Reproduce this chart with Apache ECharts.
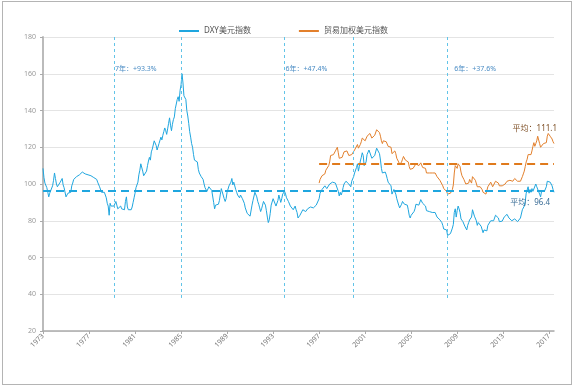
<!DOCTYPE html>
<html>
<head>
<meta charset="utf-8">
<script src="https://cdn.jsdelivr.net/npm/echarts@6/dist/echarts.min.js"></script>
<style>
html,body{margin:0;padding:0;background:#fff;}
#chart{position:absolute;left:0;top:0;width:576px;height:388px;}
#frame{position:absolute;left:2px;top:1px;width:568px;height:382px;border:1px solid #b4b4b4;pointer-events:none;}
</style>
</head>
<body>
<div id="chart"></div>
<div id="frame"></div>
<script>
// ---- data (monthly, Jan 1973 - Jun 2017) ----
const startYear = 1973, endYear = 2017, endMonth = 6;
const categories = [];
for (let y = startYear; y <= endYear; y++) {
  for (let m = 1; m <= 12; m++) {
    if (y === endYear && m > endMonth) break;
    categories.push(y + '-' + (m < 10 ? '0' + m : m));
  }
}
const tickYears = ['1973','1977','1981','1985','1989','1993','1997','2001','2005','2009','2013','2017'];

const dxyValues = [
 108.5,103.5,100.5,101,98,95.5,93,95,96,95,99,102,
 106,103,100,98.5,98,99.5,101,102,103,99.5,98,97.5,
 93,94,95,95.5,95,95.5,99,100.5,102.5,103,103.5,104,
 104,104,105,105.5,106,106.5,107,106,105.5,105,105,105,
 105,104.5,104.5,104,104,103.5,102.5,103,102.5,101,100,98.5,
 97.5,95.5,95,96,95.5,94,92.5,89.5,88,83,89.5,88,
 88.5,87.5,88,89,90.5,88.5,86.5,87.5,86,88,86.5,86,
 85.5,86,90.5,93,87.5,86,85.5,86.5,86,87.5,90,92.5,
 95,98,98.5,101,105,107.5,111,111.5,107,104.5,104,105,
 107,110,112.5,114.5,113,117.5,119,120,123.5,122.5,121,118.5,
 119.5,122,123,125.5,124,126.5,128.5,130.5,129,127,130,133,
 136,132,129,132.5,135,136.5,141,140,146,147.5,145,151,
 154,160,155,148,147.5,146,140,137,133,128.5,125.5,122,
 120,116,113,112.5,114,112,108,106,105,104,104.5,102.5,
 100,98,97.5,96,97,98.5,99,97.5,96.5,95.5,90,86.5,
 88.5,89.5,88,89,91,94.5,97.5,98,97,92,90.5,92,
 95.5,96,99,98.5,101,103,99.5,101,101.5,97,95.5,94,
 93,92.5,94,93.5,92,92.5,89.5,87,86.5,84,83,83.5,
 82.5,82,88.5,91,92,95.5,94.5,93,90.5,89,87,85,
 86.5,88.5,90.5,90,88.5,85.5,82,79,80.5,84,88.5,88.5,
 92,93,91,88,88.5,91,94,93,90,92,94.5,95.5,
 96,94.5,92.5,91.5,90.5,89.5,88,88,87.5,86,87,88,
 86,84.5,81.5,81,83,82.5,83,86,86.5,85,85,86,
 86.5,86,86.5,87.5,88,88,87,86.5,88,88.5,88,89,
 92,95,95.5,97,96,96,99,100,97.5,97,98,100,
 100.5,99.5,101,100,100,100.5,101,101.5,96,93.5,95.5,94,
 95.5,98,100,101,101.5,102.5,101.5,100,99,98.5,101.5,102,
 104,106,106.5,109,111,107,109.5,112.5,114.5,117,115.5,110,
 110.5,112,116,117,118.5,119.5,118,114,113,114.5,115.5,116.5,
 119.5,120,119,116.5,113,108.5,106,106.5,106.5,106.5,105,103,
 101,100.5,100,99,94.5,95,97,98,94.5,92,91,88.5,
 87,87,89,90.5,90.5,89,88.5,89,88.5,86,83,81.5,
 83,83.5,83.5,85,86.5,89,89.5,88,88.5,89.5,91.5,91,
 89.5,90.5,90,88,85.5,86,86,85,85.5,86,84.5,83.5,
 85,84.5,83.5,82,82.5,82.5,80.5,81,79,77.5,75.5,76.5,
 76,75,72,72.5,73,73,72.5,76,78,84.5,86.5,82,
 85.5,88,86.5,84.5,81,80.5,79.5,78.5,77,76,75,77.5,
 79,80.5,81,82,86,86.5,82.5,82.5,80,77.5,79,80,
 78.5,77,76,73.5,75,74.5,74,74.5,77.5,76.5,78.5,80,
 79.5,79,80,79.5,83,82,83,81.5,79.5,80,80.5,79.8,
 79.5,82,83,82,83.5,83,81.5,81.5,80.5,80,80.5,80.5,
 81,80,80,79.5,80.5,80.5,81.5,82.5,86,86.5,88,90.5,
 95,95.5,98.5,95,97,95.5,97.5,96,96,97,100,98.5,
 99.5,98,94.5,93,96,96,97,96,95.5,98.5,101.5,102.5,
 100.5,101,100.5,99,97,95.5
];

const twStart = '1997-01';
const twValues = [
 100.5,102.5,103,104.5,104,104,105.5,107.5,107,108,110,112,
 115.5,115,115.5,116,116.5,118,118.5,120,117,114,115,114.5,
 114.5,116,117.5,117.5,117,118,117,115.5,115,114.5,116,116.5,
 116.5,118.5,118.5,119,121.5,119.5,120.5,121.5,123,125,125,124,
 123.5,124,126,127,126.5,127.5,127.5,125,125.5,126,126.5,127.5,
 129.5,130,129,128,126,123.5,122,123.5,124,124,123,122,
 120.5,120.5,120.5,120,116.5,116,117.5,118,116.5,114,114,112,
 110.5,110.5,112,113.5,115,114,113,113.5,113,112,109.5,108,
 109,109,108.5,109.5,109.5,111,111.5,110,110,111,111.5,111,
 109,109.5,110,108.5,106,107,107,106,106.5,107,106,105,
 106.5,106,105,104,103.5,103.5,102,103,101,99,97.5,98,
 97,96,94.5,94,95,95,94.5,97,99.5,106,110,109,
 108.5,111,112,109.5,106.5,104.5,104,102.5,101.5,100,99.5,100.5,
 100.5,102.5,101.5,100.5,104,105,103,102,101.5,98.5,99,99.5,
 98.5,97.5,97,95.5,95.5,95.5,94.5,95,98.5,99.5,99.5,101,
 100,98.5,99,99,101.5,102.5,101,100.5,99,99,99.5,99,
 98.5,99,100,100.5,101.5,101.5,102.5,102,102.5,101,101.5,102,
 103,103,102.5,101.5,101,101.5,101.5,102.5,104,105.5,107,109.5,
 112,113.5,116,115.5,115.5,116,118,120.5,122.5,120.5,122,123.5,
 126,125.5,122,120,120.5,121,122,121,121,122.5,126,127.5,
 128,126,125.5,124.5,123,122
];

const dxyAvg = 96.4;
const twAvg = 111.1;
const cycleLines = ['1979-03','1985-01','1994-01','2000-01','2008-03'];
const cycleLineRange = [180, 38];
const cycleLabelAt = ['1979-03','1994-01','2008-09'];
const cycleLabels = ['7年：+93.3%','6年：+47.4%','6年：+37.6%'];
const cycleLabelY = 162.6;

// ---- build ----
const twOffset = categories.indexOf(twStart);
const twData = new Array(twOffset).fill(null).concat(twValues);
const firstCat = categories[0], lastCat = categories[categories.length - 1];

const blue = '#1fa6df', orange = '#e3802c';
const FONT = "'Noto Sans','Noto Sans CJK SC',sans-serif";

const isTick = (idx, val) => val.slice(5) === '01' && tickYears.indexOf(val.slice(0, 4)) >= 0;

const dxyMarkLines = cycleLines.map(c => [
  {coord: [c, cycleLineRange[0]], lineStyle: {color: '#62c4e8', width: 1, type: [3, 3]}},
  {coord: [c, cycleLineRange[1]]}
]);
dxyMarkLines.push([
  {coord: [firstCat, dxyAvg], lineStyle: {color: blue, width: 2, type: [8, 5]}},
  {coord: [lastCat, dxyAvg]}
]);

const dxyMarkPoints = cycleLabelAt.map((c, i) => ({
  coord: [c, cycleLabelY],
  label: {show: true, formatter: cycleLabels[i], position: 'right', distance: 1,
          fontSize: 7, color: '#4a8cc4', fontFamily: FONT}
}));
dxyMarkPoints.push({
  coord: [lastCat, dxyAvg],
  label: {show: true, formatter: '平均：' + dxyAvg, position: 'inside', align: 'right',
          offset: [-4, 12.5], fontSize: 8, color: '#3b6d96', fontFamily: FONT}
});

const chart = echarts.init(document.getElementById('chart'), null, {renderer: 'canvas'});
chart.setOption({
  animation: false,
  backgroundColor: '#fff',
  textStyle: {fontFamily: FONT},
  legend: {
    left: 174, top: 22, itemWidth: 20, itemHeight: 2, itemGap: 48, icon: 'rect',
    textStyle: {fontSize: 8, color: '#555', fontFamily: FONT},
    data: ['DXY美元指数', '贸易加权美元指数']
  },
  grid: {left: 43, right: 22, top: 37, bottom: 57, containLabel: false},
  xAxis: {
    type: 'category', data: categories, boundaryGap: false,
    axisLine: {lineStyle: {color: '#aaa', width: 1.5}},
    axisTick: {show: true, interval: isTick, length: 3, lineStyle: {color: '#aaa'}},
    axisLabel: {interval: isTick, formatter: v => v.slice(0, 4), rotate: 45,
                fontSize: 7, color: '#777', margin: 4},
    splitLine: {show: false}
  },
  yAxis: {
    type: 'value', min: 20, max: 180, interval: 20,
    axisLine: {show: true, lineStyle: {color: '#bbb', width: 2}},
    axisTick: {show: true, length: 3, lineStyle: {color: '#aaa'}},
    axisLabel: {fontSize: 7, color: '#999', margin: 7},
    splitLine: {lineStyle: {color: '#e4e4e4'}}
  },
  series: [
    {
      name: 'DXY美元指数', type: 'line', data: dxyValues, symbol: 'none',
      lineStyle: {color: blue, width: 1}, itemStyle: {color: blue},
      markLine: {symbol: 'none', silent: true, label: {show: false}, data: dxyMarkLines},
      markPoint: {symbol: 'circle', symbolSize: 0, silent: true, data: dxyMarkPoints}
    },
    {
      name: '贸易加权美元指数', type: 'line', data: twData, symbol: 'none',
      lineStyle: {color: orange, width: 1}, itemStyle: {color: orange},
      markLine: {symbol: 'none', silent: true, label: {show: false},
        data: [[{coord: [twStart, twAvg], lineStyle: {color: '#e07a1c', width: 2, type: [8, 5]}},
                {coord: [lastCat, twAvg]}]]},
      markPoint: {symbol: 'circle', symbolSize: 0, silent: true, data: [{
        coord: [lastCat, twAvg],
        label: {show: true, formatter: '平均：' + twAvg, position: 'inside', align: 'right',
                offset: [3, -34.5], fontSize: 8, color: '#7d4e24', fontFamily: FONT}
      }]}
    }
  ]
});
</script>
</body>
</html>
